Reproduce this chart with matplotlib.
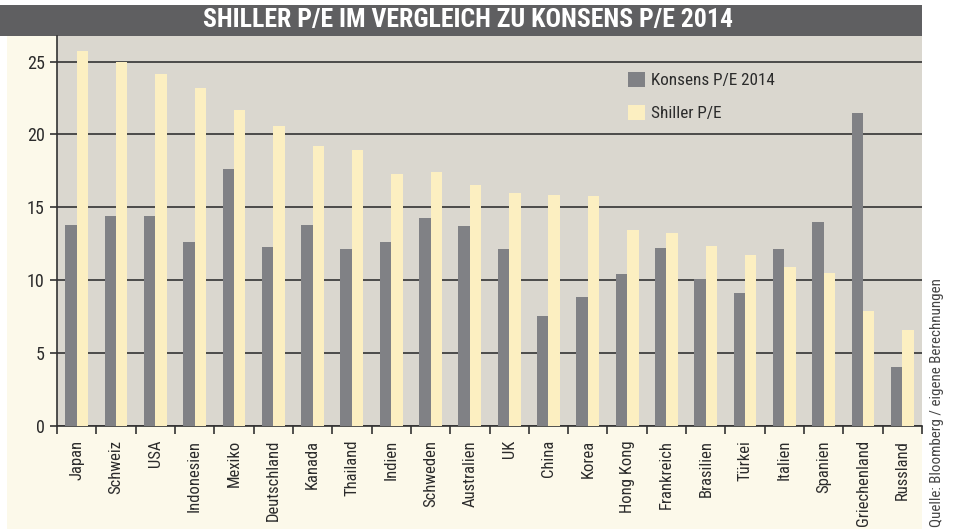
import matplotlib
matplotlib.use('Agg')
import matplotlib.pyplot as plt
from matplotlib.patches import Rectangle, Patch
from matplotlib import font_manager
import numpy as np

# data
countries = ['Japan', 'Schweiz', 'USA', 'Indonesien', 'Mexiko', 'Deutschland', 'Kanada',
             'Thailand', 'Indien', 'Schweden', 'Australien', 'UK', 'China', 'Korea',
             'Hong Kong', 'Frankreich', 'Brasilien', 'Türkei', 'Italien', 'Spanien',
             'Griechenland', 'Russland']
konsens = [13.8, 14.4, 14.4, 12.6, 17.65, 12.3, 13.8, 12.15, 12.65, 14.3, 13.7, 12.15,
           7.55, 8.85, 10.4, 12.2, 10.05, 9.15, 12.15, 14.0, 21.5, 4.05]
shiller = [25.75, 25.0, 24.15, 23.2, 21.7, 20.6, 19.2, 18.95, 17.3, 17.45, 16.5, 16.0,
           15.85, 15.75, 13.45, 13.25, 12.35, 11.75, 10.9, 10.5, 7.9, 6.6]
yticks = [0, 5, 10, 15, 20, 25]

# pick a narrow font if one is installed
fonts = font_manager.fontManager.ttflist
names = {f.name for f in fonts}
stretch = 'normal'
family = 'DejaVu Sans'
for cand in ['Liberation Sans Narrow', 'Roboto Condensed', 'Open Sans Condensed', 'Arial Narrow']:
    if cand in names:
        family = cand
        break
else:
    cond = [f.name for f in fonts if str(f.stretch) in ('condensed', 'semi-condensed', '400', '500')
            and f.name in ('DejaVu Sans', 'Open Sans', 'Roboto', 'Noto Sans', 'Inter')]
    if cond:
        family = cond[0]
        stretch = 'condensed'
narrow = family != 'DejaVu Sans' or stretch == 'condensed'
plt.rcParams['font.family'] = [family, 'DejaVu Sans']
plt.rcParams['font.stretch'] = stretch

k = 1.0 if narrow else 0.8
fs_y = 13 * k
fs_x = 12 * k
fs_leg = 12.3 * k
fs_title = 18.5 * k

TITLE_BG = '#5f5f61'
CREAM = '#fcf9ea'
PLOT_BG = '#dad7cf'
DARK = '#808185'
YELLOW = '#fcefc1'
TXT = '#2b2b2b'

fig = plt.figure(figsize=(9.55, 5.30), dpi=100)
fig.patch.set_facecolor('white')

# cream panel and title bar
fig.patches.append(Rectangle((7/955, 1/530), 915/955, 493/530, transform=fig.transFigure,
                             facecolor=CREAM, edgecolor='none', zorder=-2))
fig.patches.append(Rectangle((0, 1 - 36/530), 922/955, 31/530, transform=fig.transFigure,
                             facecolor=TITLE_BG, edgecolor='none', zorder=-2))
fig.text(468/955, 1 - 20.5/530, 'SHILLER P/E IM VERGLEICH ZU KONSENS P/E 2014',
         color='white', fontsize=fs_title, fontweight='bold', ha='center', va='center')

ax = fig.add_axes([57/955, 1 - 426/530, 865/955, 390/530])
ax.set_facecolor(PLOT_BG)

x = np.arange(len(countries))
w = 0.29
ax.bar(x - w/2, konsens, w, color=DARK, label='Konsens P/E 2014', zorder=3)
ax.bar(x + w/2, shiller, w, color=YELLOW, label='Shiller P/E', zorder=3)

ax.set_xlim(-0.5, len(countries) - 0.5)
ax.set_ylim(0, 26.75)

ax.set_yticks(yticks)
ax.set_yticklabels([str(t) for t in yticks], fontsize=fs_y, color=TXT)
ax.yaxis.grid(True, color='#333333', linewidth=1.2, zorder=1)
ax.set_axisbelow(True)
ax.tick_params(axis='y', length=5, width=1.2, color='#333333', pad=4)

ax.set_xticks(x)
ax.set_xticklabels(countries, rotation=90, fontsize=fs_x, color=TXT)
ax.set_xticks(np.arange(len(countries) + 1) - 0.5, minor=True)
ax.tick_params(axis='x', which='major', length=0, pad=10)
ax.tick_params(axis='x', which='minor', length=6, width=1.2, color='#333333')

for s in ['top', 'right']:
    ax.spines[s].set_visible(False)
for s in ['left', 'bottom']:
    ax.spines[s].set_color('#333333')
    ax.spines[s].set_linewidth(1.2)

handles = [Patch(facecolor=DARK, edgecolor='none'), Patch(facecolor=YELLOW, edgecolor='none')]
ax.legend(handles, ['Konsens P/E 2014', 'Shiller P/E'], loc='upper left',
          bbox_to_anchor=(0.65, 0.93), frameon=False, fontsize=fs_leg,
          handlelength=0.95 * 13 / fs_leg, handleheight=0.95 * 13 / fs_leg, handletextpad=0.35,
          labelspacing=0.9 * 13 / fs_leg, borderpad=0, labelcolor=TXT)

fig.text(937/955, 1 - 527/530, 'Quelle: Bloomberg / eigene Berechnungen', rotation=90,
         fontsize=10.8 * k, color='#444444', ha='center', va='bottom')

fig.savefig('out.png', dpi=100)
